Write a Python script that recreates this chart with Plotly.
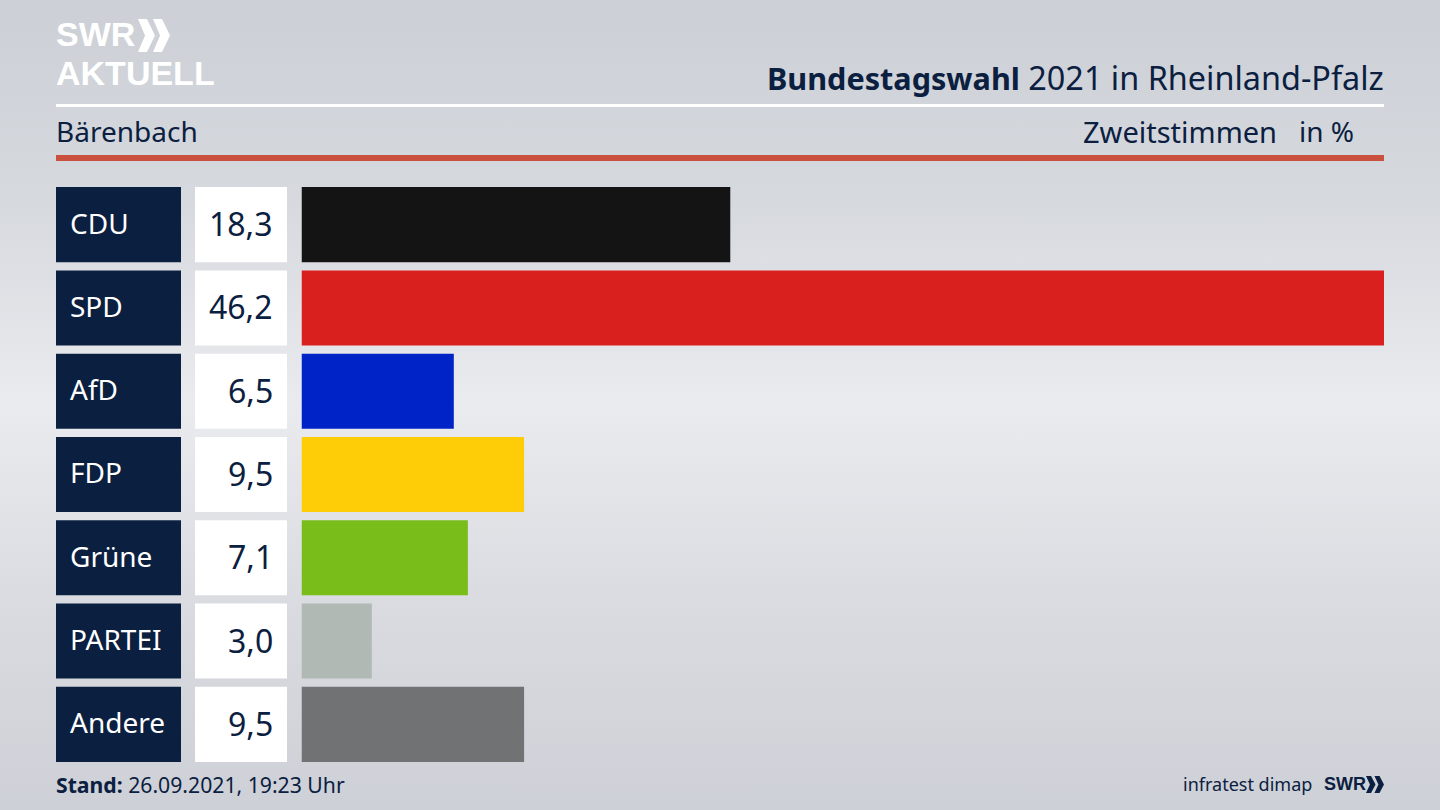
import plotly.graph_objects as go

parties = ["CDU", "SPD", "AfD", "FDP", "Grüne", "PARTEI", "Andere"]
values = [18.3, 46.2, 6.5, 9.5, 7.1, 3.0, 9.5]
colors = ["#141414", "#d9201f", "#0023c8", "#ffcc08", "#79bd1a", "#b0b9b3", "#717274"]

NAVY = "#0b2040"
FONT = "Noto Sans"
LOGO_FONT = "Liberation Sans"
W, H = 1440, 810


def px(x):
    return x / W


def py(y):
    return 1 - y / H


# background gradient, light band in the middle
bg_svg = (
    "data:image/svg+xml;utf8,"
    "<svg xmlns='http://www.w3.org/2000/svg' width='1440' height='810'>"
    "<defs><linearGradient id='g' x1='0' y1='0' x2='0' y2='1'>"
    "<stop offset='0' stop-color='%23ccd0d6'/>"
    "<stop offset='0.25' stop-color='%23d6d9de'/>"
    "<stop offset='0.5' stop-color='%23eaebef'/>"
    "<stop offset='0.75' stop-color='%23d9dbe0'/>"
    "<stop offset='1' stop-color='%23cdd0d6'/>"
    "</linearGradient></defs>"
    "<rect width='1440' height='810' fill='url(%23g)'/></svg>"
)

fig = go.Figure()

# party name boxes
fig.add_trace(go.Bar(
    y=parties, x=[1] * len(parties), orientation="h",
    marker=dict(color=NAVY, line_width=0), xaxis="x2", yaxis="y", hoverinfo="skip",
))
# white value boxes
fig.add_trace(go.Bar(
    y=parties, x=[1] * len(parties), orientation="h",
    marker=dict(color="white", line_width=0), xaxis="x3", yaxis="y", hoverinfo="skip",
))
# the actual result bars
fig.add_trace(go.Bar(
    y=parties, x=values, orientation="h",
    marker=dict(color=colors, line_width=0), xaxis="x", yaxis="y",
))

annotations = []
for name, val in zip(parties, values):
    annotations.append(dict(
        x=0, y=name, xref="x2", yref="y", text=name, showarrow=False, xanchor="left",
        xshift=12, yshift=2, font=dict(family=FONT, size=28, color="white"),
    ))
    annotations.append(dict(
        x=1, y=name, xref="x3", yref="y", text=f"{val:.1f}".replace(".", ","),
        showarrow=False, xanchor="right", xshift=-12, yshift=1,
        font=dict(family=FONT, size=32, color=NAVY),
    ))


def label(x, y, text, anchor, size, color=NAVY, family=FONT):
    # annotations carry about 2px of padding, take it back out
    annotations.append(dict(
        x=px(x), y=py(y), xref="paper", yref="paper", text=text, showarrow=False,
        xanchor=anchor, yanchor="middle", xshift=-2 if anchor == "left" else 2,
        font=dict(family=family, size=size, color=color),
    ))


label(1384, 77, "<b><span style='font-size:30.6px'>Bundestagswahl</span></b> 2021 in Rheinland-Pfalz", "right", 32.4)
label(56, 131, "Bärenbach", "left", 28)
label(1277, 131, "Zweitstimmen", "right", 29)
label(1354, 131, "in %", "right", 28)
label(56, 784, "<b>Stand:</b> 26.09.2021, 19:23 Uhr", "left", 21.2)
label(1312, 784, "infratest dimap", "right", 18)
label(1324, 784, "<b>SWR</b>", "left", 18, family=LOGO_FONT)
label(56, 34, "<b>SWR</b>", "left", 34, "white", LOGO_FONT)
label(56, 73, "<b>AKTUELL</b>", "left", 34, "white", LOGO_FONT)


def chevrons(x, y, w, h, color):
    # two arrow heads, x/y is the top left corner in pixels
    out = []
    for dx in (0, w * 0.47):
        pts = [(x + dx, y), (x + dx + w * 0.28, y), (x + dx + w * 0.53, y + h / 2),
               (x + dx + w * 0.28, y + h), (x + dx, y + h), (x + dx + w * 0.22, y + h / 2)]
        path = "M " + " L ".join(f"{px(a):.5f},{py(b):.5f}" for a, b in pts) + " Z"
        out.append(dict(type="path", xref="paper", yref="paper", path=path,
                        fillcolor=color, line_width=0, layer="above"))
    return out


shapes = [
    # white rule under the header
    dict(type="rect", xref="paper", yref="paper", x0=px(56), x1=px(1384), y0=py(107), y1=py(104),
         fillcolor="white", line_width=0, layer="below"),
    # red rule
    dict(type="rect", xref="paper", yref="paper", x0=px(56), x1=px(1384), y0=py(161), y1=py(155),
         fillcolor="#c9503c", line_width=0, layer="below"),
]
shapes += chevrons(138, 19, 32, 33, "white")
shapes += chevrons(1366, 776, 18, 17, NAVY)

fig.update_layout(
    width=W, height=H,
    margin=dict(l=0, r=0, t=0, b=0),
    paper_bgcolor="#e0e2e7",
    plot_bgcolor="rgba(0,0,0,0)",
    showlegend=False,
    bargap=0.0986,
    images=[dict(source=bg_svg, xref="paper", yref="paper", x=0, y=1, sizex=1, sizey=1,
                 xanchor="left", yanchor="top", sizing="stretch", layer="below")],
    xaxis=dict(domain=[px(301.5), px(1384)], range=[0, 46.2], visible=False, anchor="y"),
    xaxis2=dict(domain=[px(56), px(181)], range=[0, 1], visible=False, anchor="y"),
    xaxis3=dict(domain=[px(195), px(287)], range=[0, 1], visible=False, anchor="y"),
    yaxis=dict(domain=[py(766), py(183)], categoryorder="array", categoryarray=parties,
               autorange="reversed", visible=False, anchor="x"),
    annotations=annotations,
    shapes=shapes,
)

fig.write_html("out.html", config=dict(displayModeBar=False),
               post_script="document.body.style.margin='0';")
